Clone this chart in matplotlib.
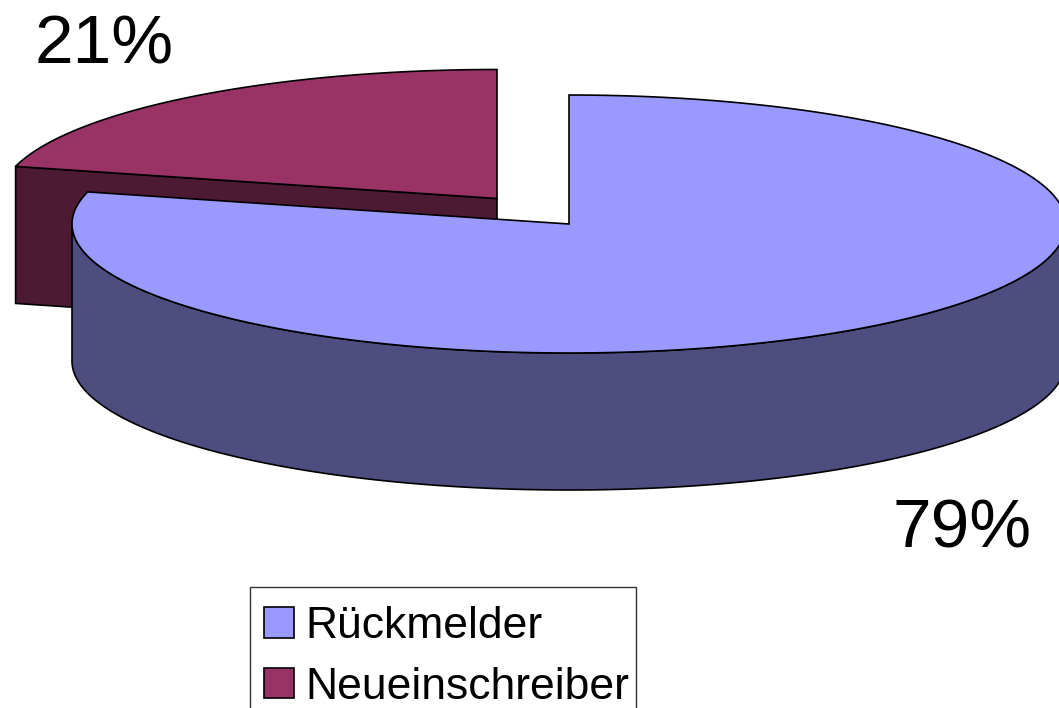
import numpy as np
import matplotlib.pyplot as plt
from matplotlib.patches import Polygon, Patch, Rectangle

plt.rcParams['font.family'] = ['Liberation Sans', 'DejaVu Sans']

labels = ['Rückmelder', 'Neueinschreiber']
shares = [79, 21]
pct_labels = ['79%', '21%']
top_colors = ['#9999ff', '#993366']
side_colors = ['#4d4d80', '#4d1a33']

RX, RY, DEPTH = 497, 129, 137


def rim(cx, cy, a0, a1, n=200):
    t = np.radians(np.linspace(a0, a1, n))
    return np.column_stack([cx + RX*np.cos(t), cy - RY*np.sin(t)])


def draw(ax, poly, color, z):
    ax.add_patch(Polygon(poly, closed=True, fc=color, ec='black', lw=1.2, zorder=z))


fig = plt.figure(figsize=(10.59, 7.08), dpi=100)
ax = fig.add_axes([0, 0, 1, 1])
ax.set_xlim(0, 1059)
ax.set_ylim(708, 0)
ax.axis('off')

# both slices start at 12 o'clock, the small one goes left, the big one goes round the other way
split = 90 + shares[1]/100*360

# small slice, pulled out to the back left
cx, cy = 497, 198.5
edge = rim(cx, cy, 90, split)
tip = edge[-1]
draw(ax, [[cx, cy], tip, tip + [0, DEPTH], [cx, cy + DEPTH]], side_colors[1], 1)
draw(ax, np.vstack([[[cx, cy]], edge]), top_colors[1], 2)

# big slice
cx, cy = 569, 224
front = rim(cx, cy, 180, 360)
draw(ax, np.vstack([front, (front + [0, DEPTH])[::-1]]), side_colors[0], 3)
edge = rim(cx, cy, split, 360 + 90)
draw(ax, np.vstack([[[cx, cy]], edge]), top_colors[0], 4)

ax.text(34, 64, pct_labels[1], fontsize=50, va='baseline', ha='left', color='black')
ax.text(893, 547, pct_labels[0], fontsize=50, va='baseline', ha='left', color='black')

# legend box runs off the bottom of the picture, so it gets its own frame
ax.add_patch(Rectangle((249.5, 587), 386, 140, fc='white', ec='#333333', lw=1.0, zorder=5))
handles = [Patch(fc=c, ec='black', lw=1.2) for c in top_colors]
leg = ax.legend(handles, labels, loc='upper left', bbox_to_anchor=(264, 606),
                bbox_transform=ax.transData, borderaxespad=0, borderpad=0, fontsize=32,
                frameon=False, handlelength=0.67, handleheight=0.67, handletextpad=0.25,
                labelspacing=0.44)
leg.set_zorder(6)

fig.savefig('out.png', dpi=100)
